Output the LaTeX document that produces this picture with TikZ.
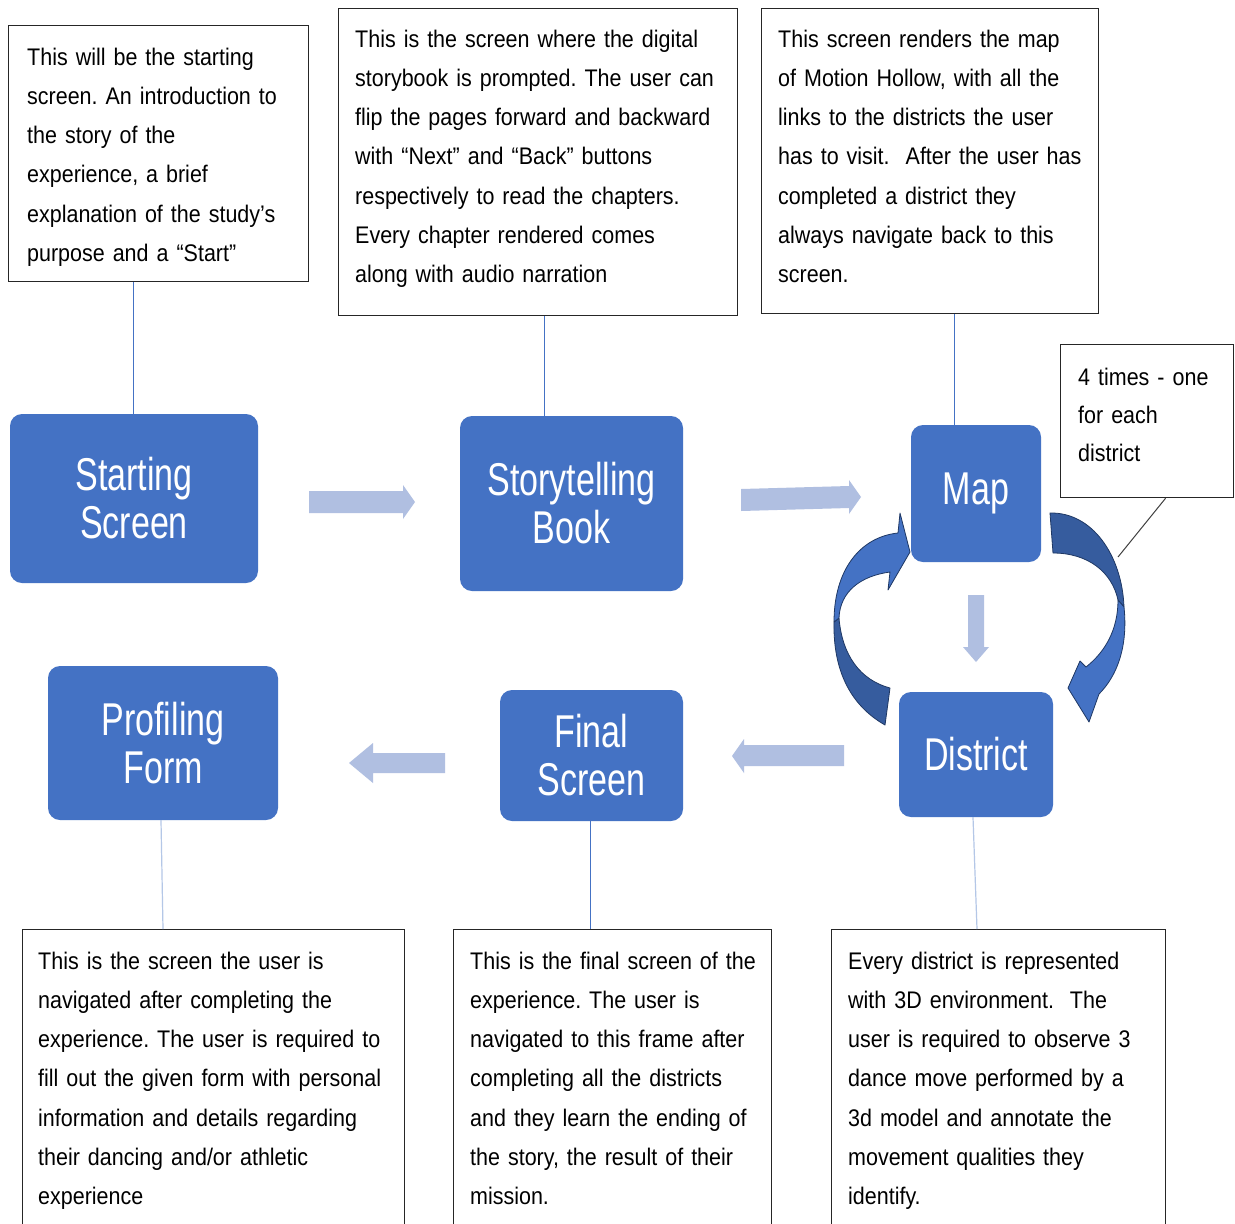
\documentclass[tikz,border=0pt]{standalone}
\usepackage{fontspec}
\setmainfont{Liberation Sans}[FakeStretch=0.895]
\newfontfamily\stagefont{Liberation Sans}[FakeStretch=0.74]
\usepackage{tikz}
\usetikzlibrary{calc}
\frenchspacing

\definecolor{stageblue}{HTML}{4472C4}
\definecolor{paleblue}{HTML}{B4C7E7}
\definecolor{flowblue}{HTML}{B0BFE1}
\definecolor{loopdark}{HTML}{365C9E}
\definecolor{loopline}{HTML}{1F3864}

\tikzset{
  notebox/.style={draw=black!85, line width=1.2pt, anchor=north west, inner sep=0pt},
  notetext/.style={anchor=base west, inner sep=0pt, text width=440pt, align=left,
    font=\fontsize{24}{39.3}\selectfont},
  stage/.style={fill=stageblue, rounded corners=12pt, text=white, align=center,
    inner sep=0pt, font=\stagefont\fontsize{46}{48}\selectfont},
  link/.style={draw=stageblue, line width=1pt},
  palelink/.style={draw=paleblue, line width=1.2pt},
  flow/.style={fill=flowblue},
  loopback/.style={draw=loopline, line width=0.8pt, line join=round}
}

\begin{document}
\begin{tikzpicture}[x=1pt,y=-1pt]
\clip (0,0) rectangle (1235,1224);
\fill[white] (0,0) rectangle (1235,1224);

% stages
\node[stage, minimum width=248, minimum height=169] (start) at (134,498.5) {Starting\\Screen};
\node[stage, minimum width=223, minimum height=175] (story) at (571.5,503.5) {Storytelling\\Book};
\node[stage, minimum width=130, minimum height=137] (map) at (976,493.5) {Map};
\node[stage, minimum width=154, minimum height=125] (district) at (976,754.5) {District};
\node[stage, minimum width=183, minimum height=131] (final) at (591.5,755.5) {Final\\Screen};
\node[stage, minimum width=230, minimum height=154] (profile) at (163,743) {Profiling\\Form};

% notes
\node[notebox, minimum width=300, minimum height=256] (startnote) at (8,25) {};
\node[notetext] (startnotetext) at (27,65) {This will be the starting\\screen. An introduction to\\the story of the\\experience, a brief\\explanation of the study’s\\purpose and a “Start”};

\node[notebox, minimum width=399, minimum height=307] (storynote) at (338,8) {};
\node[notetext] (storynotetext) at (355,47) {This is the screen where the digital\\storybook is prompted. The user can\\flip the pages forward and backward\\with “Next” and “Back” buttons\\respectively to read the chapters.\\Every chapter rendered comes\\along with audio narration};

\node[notebox, minimum width=337, minimum height=305] (mapnote) at (761,8) {};
\node[notetext] (mapnotetext) at (778,47) {This screen renders the map\\of Motion Hollow, with all the\\links to the districts the user\\has to visit.\ \ After the user has\\completed a district they\\always navigate back to this\\screen.};

\node[notebox, minimum width=173, minimum height=153] (timesnote) at (1060,344) {};
\node[notetext, font=\fontsize{24}{38}\selectfont] (timesnotetext) at (1078,385) {4 times - one\\for each\\district};

\node[notebox, minimum width=382, minimum height=310] (profnote) at (22,929) {};
\node[notetext] (profnotetext) at (38,969) {This is the screen the user is\\navigated after completing the\\experience. The user is required to\\fill out the given form with personal\\information and details regarding\\their dancing and/or athletic\\experience};

\node[notebox, minimum width=318, minimum height=310] (finalnote) at (453,929) {};
\node[notetext] (finalnotetext) at (470,969) {This is the final screen of the\\experience. The user is\\navigated to this frame after\\completing all the districts\\and they learn the ending of\\the story, the result of their\\mission.};

\node[notebox, minimum width=334, minimum height=310] (distnote) at (831,929) {};
\node[notetext] (distnotetext) at (848,969) {Every district is represented\\with 3D environment.\ \ The\\user is required to observe 3\\dance move performed by a\\3d model and annotate the\\movement qualities they\\identify.};

% note links
\draw[link] ([xshift=-1]start.north) -- ([xshift=-1]start.north |- startnote.south);
\draw[link] ([xshift=-27.5]story.north) -- ([xshift=-27.5]story.north |- storynote.south);
\draw[link] ([xshift=-22]map.north) -- ([xshift=-22]map.north |- mapnote.south);
\draw[palelink] ([xshift=-2]profile.south) -- (profile.south |- profnote.north);
\draw[link] ([xshift=-1.5]final.south) -- ([xshift=-1.5]final.south |- finalnote.north);
\draw[palelink] ([xshift=-3]district.south) -- ([xshift=1]district.south |- distnote.north);

% flow arrows
\fill[flow] (309,491) -- (403,491) -- (403,485) -- (415,502) -- (403,519) -- (403,513) -- (309,513) -- cycle;
\fill[flow] (741,489) -- (849,486) -- (849,480) -- (861,497) -- (849,514) -- (849,508) -- (741,511) -- cycle;
\fill[flow] (968,595) -- (984,595) -- (984,647) -- (989,647) -- (976,662) -- (963,647) -- (968,647) -- cycle;
\fill[flow] (844,745) -- (744,745) -- (744,739) -- (732,756) -- (744,773) -- (744,766) -- (844,766) -- cycle;
\fill[flow] (445,753) -- (373,753) -- (373,743) -- (349,763) -- (373,783) -- (373,773) -- (445,773) -- cycle;

% loop between map and district
\filldraw[loopback, fill=loopdark] (885,725) .. controls (850,705) and (833,670) .. (834,622)
  -- (839,618) .. controls (842,655) and (860,680) .. (890,688) -- cycle;
\filldraw[loopback, fill=stageblue] (834,622) .. controls (834,570) and (860,537) .. (898,533)
  -- (900,513) -- (910,552) -- (888,590) -- (890,572)
  .. controls (860,576) and (840,592) .. (839,618) -- cycle;
\filldraw[loopback, fill=loopdark] (1050,513) .. controls (1092,512) and (1122,555) .. (1124,607)
  -- (1118,600) .. controls (1112,572) and (1088,553) .. (1053,553) -- cycle;
\filldraw[loopback, fill=stageblue] (1124,607) .. controls (1128,645) and (1118,675) .. (1099,694)
  -- (1089,722) -- (1068,688) -- (1080,661) -- (1086,667)
  .. controls (1105,652) and (1118,630) .. (1118,600) -- cycle;
\coordinate (loopright) at (1118,557);
\draw[black!75, line width=1pt] ([xshift=18.5]timesnote.south) -- (loopright);
\end{tikzpicture}
\end{document}
